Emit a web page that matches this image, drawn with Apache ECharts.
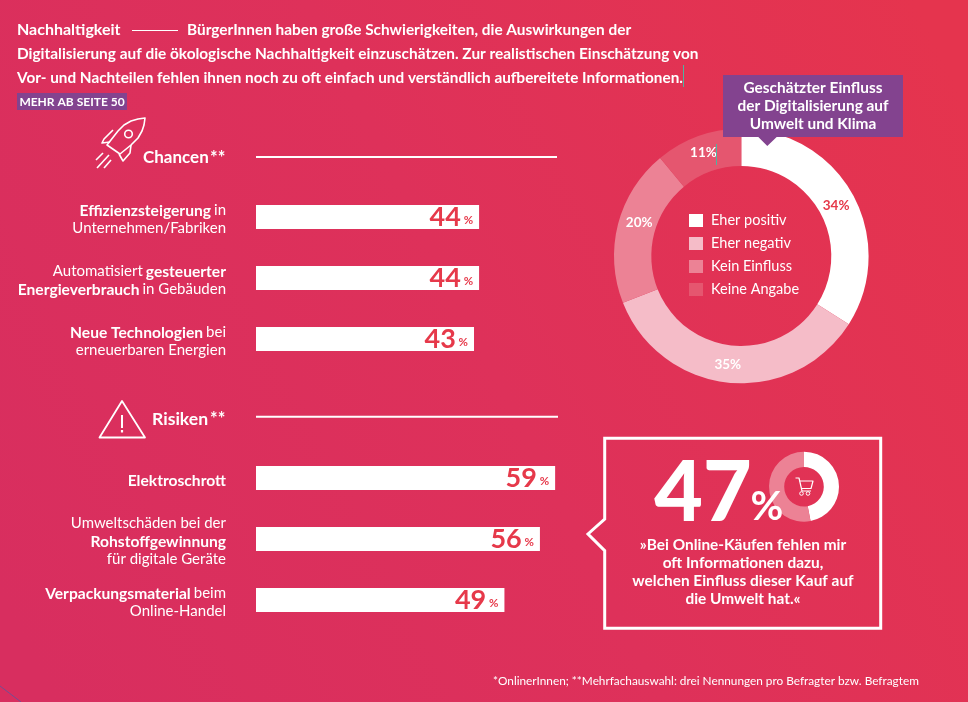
<!DOCTYPE html>
<html><head><meta charset="utf-8">
<style>html,body{margin:0;padding:0;background:#e0325a}#c{width:968px;height:702px}</style>
<script src="https://cdn.jsdelivr.net/npm/echarts@6/dist/echarts.min.js"></script>
</head><body><div id="c"></div>
<script>
const chanceCategories = ["{b|Effizienzsteigerung} {r|in}\n{r|Unternehmen/Fabriken}",
  "{r|Automatisiert} {b|gesteuerter}\n{b|Energieverbrauch} {r|in Gebäuden}",
  "{b|Neue Technologien} {r|bei}\n{r|erneuerbaren Energien}"];
const chanceValues = [44, 44, 43];
const riskCategories = ["{b|Elektroschrott}",
  "{r|Umweltschäden bei der}\n{b|Rohstoffgewinnung}\n{r|für digitale Geräte}",
  "{b|Verpackungsmaterial} {r|beim}\n{r|Online-Handel}"];
const riskValues = [59, 56, 49];
const impactNames = ["Eher positiv", "Eher negativ", "Kein Einfluss", "Keine Angabe"];
const impactValues = [34, 35, 20, 11];
const impactColors = ["#ffffff", "#f5bcc8", "#ec8295", "#e5566f"];
const impactLabelColors = ["#e6394a", "#ffffff", "#ffffff", "#ffffff"];
const impactLabelOffsets = [[-3, 3], [-3, -3], [6, -6], [0, 2]];
const onlineNames = ["Fehlende Informationen", "Übrige"];
const onlineValues = [47, 53];

const RED = "#e6394a";
const FONT = "Lato";
const chart = echarts.init(document.getElementById("c"), null, {renderer: "canvas", width: 968, height: 702});

const txt = (x, y, text, size, weight, align, fill) => ({type: "text", z: 100, x, y,
  style: {text, fill: fill || "#fff", font: `${weight} ${size}px ${FONT}`, textAlign: align || "left", textVerticalAlign: "middle"}});
const ln = (x1, y1, x2, y2, w, col) => ({type: "line", z: 100, shape: {x1, y1, x2, y2},
  style: {stroke: col || "#fff", lineWidth: w}});
const pline = (points, w, col) => ({type: "polyline", z: 100, shape: {points},
  style: {stroke: col || "#fff", lineWidth: w, fill: null, lineJoin: "round"}});
const pgon = (points, w, col, fill) => ({type: "polygon", z: 100, shape: {points},
  style: {stroke: col || "#fff", lineWidth: w, fill: fill || null, lineJoin: w > 2 ? "miter" : "round"}});
const circ = (cx, cy, r, w, col) => ({type: "circle", z: 100, shape: {cx, cy, r},
  style: {stroke: col || "#fff", lineWidth: w, fill: null}});

const graphics = [
  // intro
  txt(17, 30, "Nachhaltigkeit", 16, 700),
  ln(132, 30.5, 178, 30.5, 1),
  txt(187, 30, "BürgerInnen haben große Schwierigkeiten, die Auswirkungen der", 15.4, 700),
  txt(17, 54, "Digitalisierung auf die ökologische Nachhaltigkeit einzuschätzen. Zur realistischen Einschätzung von", 15.4, 700),
  txt(17, 78, "Vor- und Nachteilen fehlen ihnen noch zu oft einfach und verständlich aufbereitete Informationen.", 15.3, 700),
  ln(683.5, 65, 683.5, 87, 1, "#4fb3a0"),
  {type: "rect", z: 99, shape: {x: 17, y: 93, width: 110, height: 17}, style: {fill: "#83438f"}},
  txt(72, 102, "MEHR AB SEITE 50", 12, 700, "center"),
  // section heads
  txt(143, 158, "Chancen", 17, 700),
  txt(210, 158, "**", 18, 700),
  ln(256, 157, 557, 157, 2),
  txt(152, 419, "Risiken", 17.6, 700),
  txt(210, 419, "**", 18, 700),
  ln(256, 416.7, 558, 416.7, 2),
  // rocket
  pgon([[145,118],[138,119],[131,121],[124,125],[118,131],[107,145],[120,154],[131,145],[138,138],[142,131],[144,125]], 1.6),
  pline([[113,130],[104,139],[102,143],[110,142]], 1.6),
  pline([[131,145],[130,153],[123,161],[119,154]], 1.6),
  circ(128.5, 134, 3.8, 1.6),
  ln(96, 160, 103, 153, 1.6), ln(97, 168, 109, 155, 1.6), ln(104, 168, 111, 160, 1.6),
  // warning triangle
  pgon([[122,401],[145,437.5],[99.5,437.5]], 1.8),
  ln(122, 415, 122, 428, 2), ln(122, 430, 122, 432.5, 2.2),
  // purple header
  pgon([[723,75],[903,75],[903,137],[776.7,137],[767.3,146],[758.3,137],[723,137]], 0, "#83438f", "#83438f"),
  txt(813, 88, "Geschätzter Einfluss", 15.4, 700, "center"),
  txt(813, 106, "der Digitalisierung auf", 15.4, 700, "center"),
  txt(813, 124, "Umwelt und Klima", 15.4, 700, "center"),
  ln(716.5, 144, 716.5, 165, 1, "#4fb3a0"),
  // callout
  pgon([[604.7,438.3],[880.7,438.3],[880.7,628.3],[604.7,628.3],[604.7,550.7],[588,534],[604.7,519]], 3),
  txt(703, 494, "47", 84, 900, "center"),
  txt(767, 507, "%", 40, 700, "center"),
  txt(743, 545, "»Bei Online-Käufen fehlen mir", 15.4, 700, "center"),
  txt(743, 563, "oft Informationen dazu,", 15.4, 700, "center"),
  txt(743, 581, "welchen Einfluss dieser Kauf auf", 15.4, 700, "center"),
  txt(743, 599, "die Umwelt hat.«", 15.4, 700, "center"),
  // cart
  pline([[795.5,478],[799,478],[802,491],[811,491]], 1.2),
  pline([[799.5,481],[813,481],[811,488.5],[801.2,488.5]], 1.2),
  circ(801.5, 493.5, 1.8, 1), circ(808, 493.5, 1.8, 1),
  // footnote
  txt(493, 681, "*OnlinerInnen; **Mehrfachauswahl: drei Nennungen pro Befragter bzw. Befragtem", 11.8, 400),
  // corner trace
  ln(0, 686, 21, 702, 0.8, "#5b55a0")
];

const axisLabel = {
  interval: 0, margin: 30, align: "right", color: "#fff", padding: [5, 0, 0, 0], hideOverlap: false,
  rich: {
    b: {fontFamily: FONT, fontWeight: 700, fontSize: 15.6, color: "#fff", align: "right", lineHeight: 18},
    r: {fontFamily: FONT, fontWeight: 400, fontSize: 15, color: "#fff", align: "right", lineHeight: 18}
  }
};
const barSeries = (values, idx) => ({
  type: "bar", xAxisIndex: idx, yAxisIndex: idx, data: values, barWidth: 24, silent: true,
  itemStyle: {color: "#fff"},
  label: {show: true, position: "insideRight", distance: 6,
    formatter: p => `{v|${p.value}}{p| %}`,
    rich: {v: {fontFamily: FONT, fontWeight: 700, fontSize: 27, color: RED},
           p: {fontFamily: FONT, fontWeight: 700, fontSize: 11.5, color: RED, padding: [7, 0, 0, 0]}}}
});
const xAx = i => ({type: "value", gridIndex: i, min: 0, max: 100, show: false});
const yAx = (i, cats) => ({type: "category", gridIndex: i, inverse: true, data: cats,
  axisLine: {show: false}, axisTick: {show: false}, splitLine: {show: false}, axisLabel});

chart.setOption({
  animation: false,
  backgroundColor: new echarts.graphic.LinearGradient(0, 0.85, 1, 0.15,
    [{offset: 0, color: "#d82e5f"}, {offset: 0.5, color: "#de315a"}, {offset: 1, color: "#e5344e"}]),
  textStyle: {fontFamily: FONT},
  grid: [
    {left: 256, top: 186.5, width: 507, height: 183},
    {left: 256, top: 447.5, width: 507, height: 183}
  ],
  xAxis: [xAx(0), xAx(1)],
  yAxis: [yAx(0, chanceCategories), yAx(1, riskCategories)],
  legend: {
    data: impactNames, orient: "vertical", left: 684, top: 208,
    icon: "rect", itemWidth: 14, itemHeight: 13, itemGap: 8, selectedMode: false,
    textStyle: {color: "#fff", fontFamily: FONT, fontSize: 14.5, lineHeight: 15, padding: [0, 0, 0, 3]}
  },
  series: [
    barSeries(chanceValues, 0),
    barSeries(riskValues, 1),
    {type: "pie", center: [741.3, 256], radius: [90, 127.3], startAngle: 90, silent: true,
      labelLine: {show: false},
      label: {position: "inside", formatter: "{c}%", fontFamily: FONT, fontWeight: 700, fontSize: 13.5},
      data: impactNames.map((name, i) => ({name, value: impactValues[i],
        itemStyle: {color: impactColors[i]},
        label: {color: impactLabelColors[i], offset: impactLabelOffsets[i]}}))},
    {type: "pie", center: [804, 486.7], radius: [19.8, 35], startAngle: 90, silent: true,
      label: {show: false}, labelLine: {show: false},
      data: onlineNames.map((name, i) => ({name, value: onlineValues[i],
        itemStyle: {color: i === 0 ? "#ffffff" : "#ec8295"}}))}
  ],
  graphic: {elements: graphics}
});
</script></body></html>
